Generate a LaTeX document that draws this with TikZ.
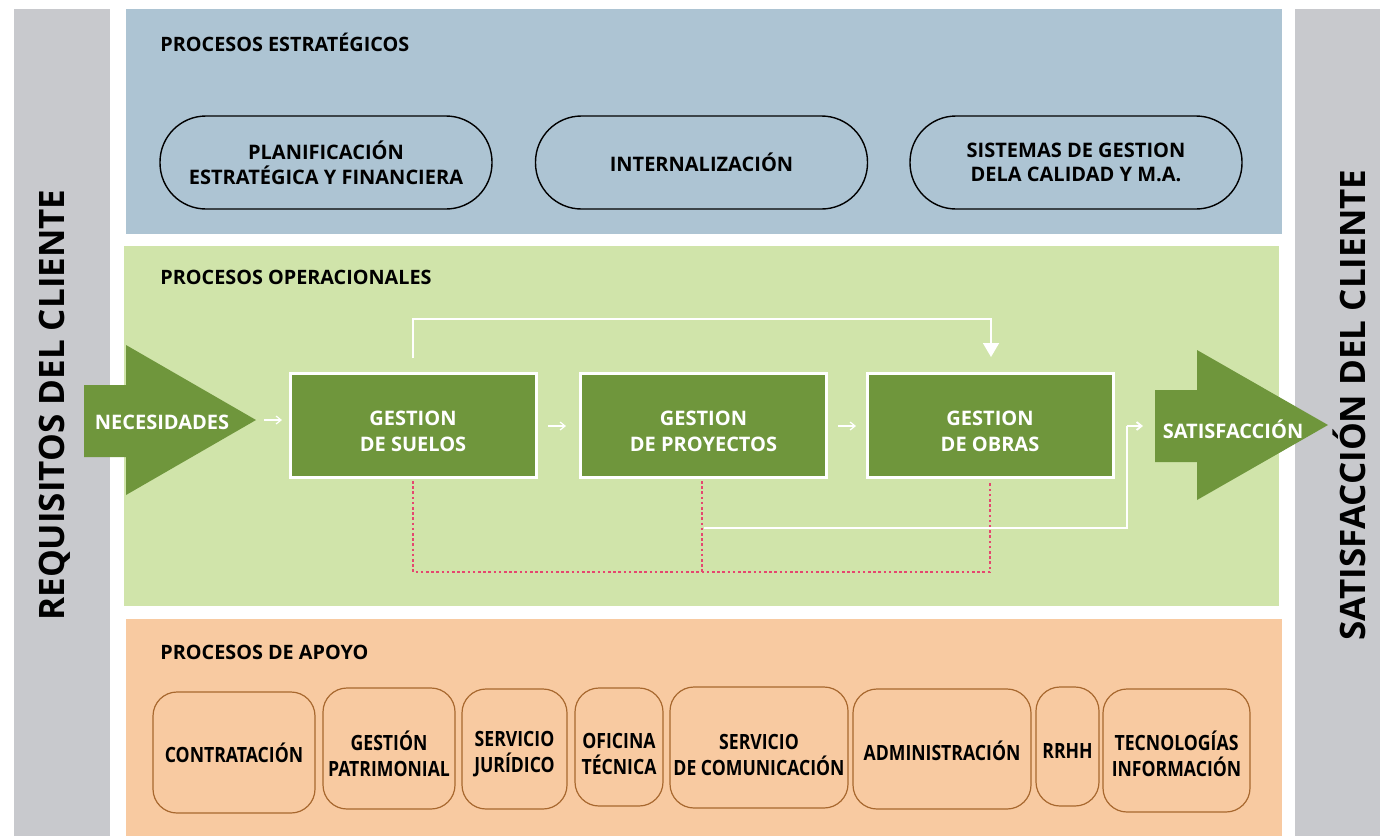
\documentclass[tikz,border=0pt]{standalone}
\usepackage{fontspec}
\setmainfont{Open Sans}
\newfontfamily\condfont[FakeStretch=0.84]{Open Sans}
\usetikzlibrary{arrows.meta}
\definecolor{greybar}{HTML}{C8C9CD}
\definecolor{bluepanel}{HTML}{ADC4D3}
\definecolor{greenpanel}{HTML}{D0E4AA}
\definecolor{darkgreen}{HTML}{6F963C}
\definecolor{orangepanel}{HTML}{F8CAA1}
\definecolor{brownline}{HTML}{A8682F}
\definecolor{reddot}{HTML}{E5476F}
\begin{document}
\begin{tikzpicture}[x=0.5pt,y=-0.5pt,
  paneltitle/.style={anchor=west,font=\bfseries\fontsize{9.9}{11}\selectfont,inner sep=0pt},
  stadium/.style={draw=black,line width=0.7pt,rounded corners=23pt,minimum width=166pt,minimum height=46.5pt,align=center,font=\bfseries\fontsize{10}{12.3}\selectfont,inner sep=0pt},
  gbox/.style={draw=white,fill=darkgreen,line width=1.5pt,minimum width=123pt,minimum height=52pt,inner sep=0pt},
  gtext/.style={align=center,text=white,font=\bfseries\fontsize{10}{13}\selectfont,inner sep=0pt},
  sbox/.style={draw=brownline,line width=0.6pt,rounded corners=12pt,inner sep=0pt},
  stext/.style={align=center,font=\condfont\bfseries\fontsize{10.5}{13}\selectfont,inner sep=0pt},
  smallarrow/.style={draw=white,line width=0.6pt,-{Straight Barb[length=2.5pt,width=4pt]}},
  wline/.style={draw=white,line width=0.9pt},
  reddots/.style={draw=reddot,line width=1pt,dash pattern=on 1.3pt off 1.3pt},
  sidetext/.style={rotate=90,font=\bfseries\fontsize{17.5}{20}\selectfont,inner sep=0pt}
]
\useasboundingbox (0,0) rectangle (1380,836);
% side bars
\fill[greybar] (14,9) rectangle (110,836);
\fill[greybar] (1295,9) rectangle (1380,836);
\node[sidetext] (req) at (55,405) {REQUISITOS DEL CLIENTE};
\node[sidetext] (sat) at (1349,405) {SATISFACCIÓN DEL CLIENTE};
% panels
\fill[bluepanel] (126,9) rectangle (1282,234);
\fill[greenpanel] (124,246) rectangle (1279,606);
\fill[orangepanel] (126,619) rectangle (1282,836);
\node[paneltitle] (t1) at (160,42) {PROCESOS ESTRATÉGICOS};
\node[paneltitle] (t2) at (160,277) {PROCESOS OPERACIONALES};
\node[paneltitle] (t3) at (160,652) {PROCESOS DE APOYO};
% strategic
\node[stadium] (plan) at (326,162.5) {PLANIFICACIÓN\\ESTRATÉGICA Y FINANCIERA};
\node[stadium] (intl) at (701.5,162.5) {INTERNALIZACIÓN};
\node[stadium] (sist) at (1076,162.5) {SISTEMAS DE GESTION\\DELA CALIDAD Y M.A.};
% big arrows
\fill[darkgreen] (84,385) -- (126,385) -- (126,345) -- (256,420) -- (126,495) -- (126,457) -- (84,457) -- cycle;
\node[gtext] (nec) at (162,422) {NECESIDADES};
\coordinate (necTip) at (256,420);
\fill[darkgreen] (1155,390) -- (1197,390) -- (1197,350) -- (1328,425) -- (1197,500) -- (1197,462) -- (1155,462) -- cycle;
\node[gtext] (satis) at (1233,429) {SATISFACCIÓN};
% operational boxes
\node[gbox] (suelos) at (413,425.5) {};
\node[gbox] (proy) at (703.5,425.5) {};
\node[gbox] (obras) at (990,425.5) {};
\node[gtext] at (413,431) {GESTION\\DE SUELOS};
\node[gtext] at (703.5,431) {GESTION\\DE PROYECTOS};
\node[gtext] at (990,431) {GESTION\\DE OBRAS};
% small arrows
\draw[smallarrow] (264,420) -- (282,420);
\draw[smallarrow] (548,426) -- (566,426);
\draw[smallarrow] (838,426) -- (856,426);
% top connector
\coordinate (topstart) at (413,358);
\coordinate (topend) at (991,357);
\draw[wline,-{Triangle[length=7pt,width=8pt]}] (topstart) -- (413,319) -- (991,319) -- (topend);
% red dotted
\draw[reddots] (413,481) -- (413,572) -- (990,572) -- (990,481);
\draw[reddots] (702,481) -- (702,572);
% lower white connector
\coordinate (lowstart) at (703.5,528);
\coordinate (lowend) at (1143,426);
\draw[wline] (lowstart) -- (1127,528) -- (1127,426);
\draw[smallarrow,line width=0.9pt] (1126.6,426) -- (lowend);
% support boxes
\draw[sbox] (153,692) rectangle (315,813);
\draw[sbox] (323,688) rectangle (455,809);
\draw[sbox] (462,689) rectangle (567,809);
\draw[sbox] (575,688) rectangle (663,806);
\draw[sbox] (670,687) rectangle (848,808);
\draw[sbox] (853,689) rectangle (1031,809);
\draw[sbox] (1036,687) rectangle (1099,806);
\draw[sbox] (1103,689) rectangle (1250,812);
\node[stext] (s1) at (234,753) {CONTRATACIÓN};
\node[stext] (s2) at (389,754) {GESTIÓN\\PATRIMONIAL};
\node[stext] (s3) at (514.5,754) {SERVICIO\\JURÍDICO};
\node[stext] (s4) at (619,754) {OFICINA\\TÉCNICA};
\node[stext] (s5) at (759,755) {SERVICIO\\DE COMUNICACIÓN};
\node[stext] (s6) at (942,751) {ADMINISTRACIÓN};
\node[stext] (s7) at (1067.5,751) {RRHH};
\node[stext] (s8) at (1176.5,754) {TECNOLOGÍAS\\INFORMACIÓN};
\end{tikzpicture}
\end{document}
